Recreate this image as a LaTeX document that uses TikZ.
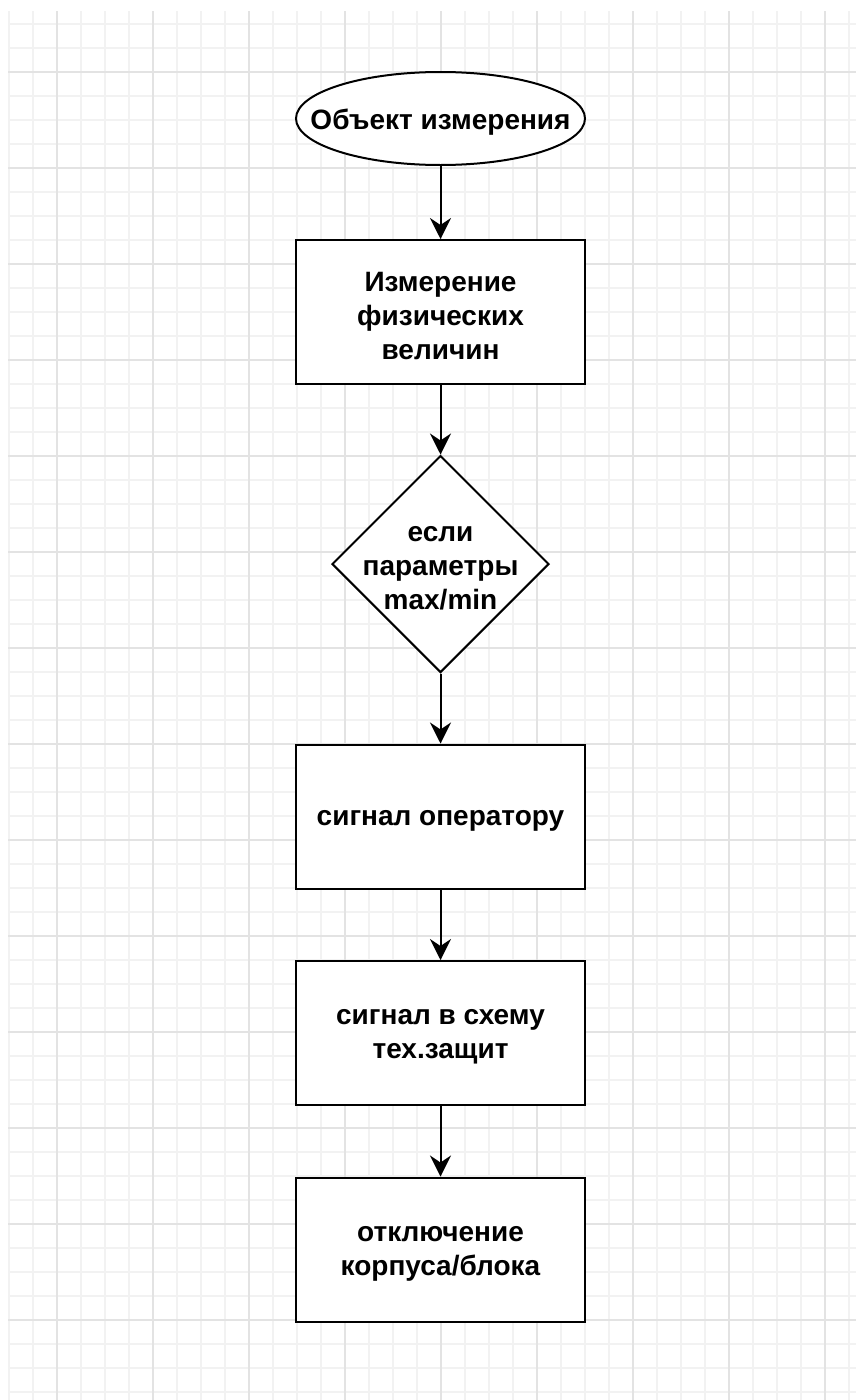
\documentclass[tikz,border=0pt]{standalone}
\usepackage{fontspec}
\setmainfont{Liberation Sans}
\usetikzlibrary{shapes.geometric,arrows.meta}
\begin{document}
\begin{tikzpicture}[x=1pt,y=-1pt,
  shapeline/.style={draw=black,line width=2pt,fill=white,inner sep=0pt},
  txt/.style={font=\fontsize{28}{34}\selectfont\bfseries,align=center,text=black,yshift=-4pt},
  procbox/.style={shapeline,rectangle,minimum width=289pt,minimum height=144pt},
  termbox/.style={shapeline,ellipse,minimum width=289pt,minimum height=93pt},
  decbox/.style={shapeline,diamond,minimum width=217pt,minimum height=217pt},
  flow/.style={draw=black,line width=2pt,-{Stealth[length=21pt,width=21pt,inset=7pt]}},
  minorgrid/.style={draw=black!5,line width=1.2pt},
  majorgrid/.style={draw=black!11,line width=1.5pt}]
\useasboundingbox (0,0) rectangle (856,1400);
\fill[white] (0,0) rectangle (856,1400);
% grid
\foreach \gx in {9,33,...,856} {\draw[minorgrid] (\gx,11) -- (\gx,1400);}
\foreach \gy in {24,48,...,1400} {\draw[minorgrid] (8,\gy) -- (856,\gy);}
\foreach \gx in {57,153,...,856} {\draw[majorgrid] (\gx,11) -- (\gx,1400);}
\foreach \gy in {72,168,...,1400} {\draw[majorgrid] (8,\gy) -- (856,\gy);}
% nodes
\node[termbox,label={[txt]center:{Объект измерения}}] (obj) at (440.5,118.5) {};
\node[procbox,label={[txt]center:{Измерение\\физических\\величин}}] (meas) at (440.5,312) {};
\node[decbox,label={[txt]center:{если\\параметры\\max/min}}] (dec) at (440.5,564) {};
\node[procbox,label={[txt]center:{сигнал оператору}}] (oper) at (440.5,816.5) {};
\node[procbox,label={[txt]center:{сигнал в схему\\тех.защит}}] (prot) at (440.5,1033) {};
\node[procbox,label={[txt]center:{отключение\\корпуса/блока}}] (off) at (440.5,1249.5) {};
% connectors
\draw[flow] (obj) -- (meas);
\draw[flow] (meas) -- (dec);
\draw[flow] (dec) -- (oper);
\draw[flow] (oper) -- (prot);
\draw[flow] (prot) -- (off);
\end{tikzpicture}
\end{document}
